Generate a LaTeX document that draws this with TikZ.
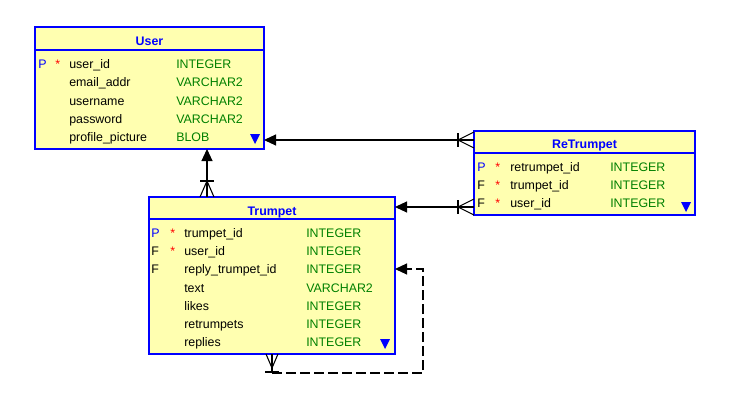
\documentclass[tikz,border=0pt]{standalone}
\usepackage{fontspec}
\setmainfont{Liberation Sans}
\usetikzlibrary{arrows.meta,fit}
\definecolor{boxfill}{RGB}{255,255,176}
\definecolor{typegreen}{RGB}{0,128,0}
\definecolor{keyblue}{RGB}{0,0,255}
\begin{document}
\begin{tikzpicture}[x=0.75pt,y=-0.75pt,
  font=\fontsize{9.3}{11}\selectfont,
  entity/.style={draw=keyblue,fill=boxfill,line width=0.9pt,inner sep=0pt},
  title/.style={text=keyblue,font=\fontsize{9.3}{11}\selectfont\bfseries,inner sep=0pt,anchor=base},
  txt/.style={anchor=base west,inner sep=0pt,yshift=-3.4pt},
  tri/.style={fill=keyblue,draw=none},
  rel/.style={line width=0.8pt,-{Triangle[length=9pt,width=8.25pt]}},
  foot/.style={line width=0.8pt},
  dashrel/.style={line width=0.8pt,dash pattern=on 7.5pt off 3pt,-{Triangle[length=9pt,width=8.25pt]}}]
\useasboundingbox (0,0) rectangle (739,410);
\fill[white] (0,0) rectangle (739,410);
% ---------- User
\coordinate (ua) at (35,27); \coordinate (ub) at (264,149);
\node[entity,fit=(ua)(ub)] (user) {};
\draw[keyblue,line width=0.9pt] (35,50) -- (264,50);
\node[title] (usertitle) at (149.5,46) {User};
\node[txt,text=keyblue] (u1k) at (38,64) {P};
\node[txt,text=red] (u1s) at (55,64) {*};
\node[txt] (u1n) at (69,64) {user\_id};
\node[txt,text=typegreen] (u1t) at (176,64) {INTEGER};
\node[txt] (u2n) at (69,82) {email\_addr};
\node[txt,text=typegreen] (u2t) at (176,82) {VARCHAR2};
\node[txt] (u3n) at (69,101) {username};
\node[txt,text=typegreen] (u3t) at (176,101) {VARCHAR2};
\node[txt] (u4n) at (69,119) {password};
\node[txt,text=typegreen] (u4t) at (176,119) {VARCHAR2};
\node[txt] (u5n) at (69,137) {profile\_picture};
\node[txt,text=typegreen] (u5t) at (176,137) {BLOB};
\fill[tri] (250,134) -- (260,134) -- (255,144) -- cycle;
% ---------- Trumpet
\coordinate (ta) at (149,197); \coordinate (tb) at (395,354);
\node[entity,fit=(ta)(tb)] (trumpet) {};
\draw[keyblue,line width=0.9pt] (149,219) -- (395,219);
\node[title] (trumpettitle) at (272,215) {Trumpet};
\node[txt,text=keyblue] (t1k) at (151,233) {P};
\node[txt,text=red] (t1s) at (170,233) {*};
\node[txt] (t1n) at (184,233) {trumpet\_id};
\node[txt,text=typegreen] (t1t) at (306,233) {INTEGER};
\node[txt] (t2k) at (151,251) {F};
\node[txt,text=red] (t2s) at (170,251) {*};
\node[txt] (t2n) at (184,251) {user\_id};
\node[txt,text=typegreen] (t2t) at (306,251) {INTEGER};
\node[txt] (t3k) at (151,269) {F};
\node[txt] (t3n) at (184,269) {reply\_trumpet\_id};
\node[txt,text=typegreen] (t3t) at (306,269) {INTEGER};
\node[txt] (t4n) at (184,288) {text};
\node[txt,text=typegreen] (t4t) at (306,288) {VARCHAR2};
\node[txt] (t5n) at (184,306) {likes};
\node[txt,text=typegreen] (t5t) at (306,306) {INTEGER};
\node[txt] (t6n) at (184,324) {retrumpets};
\node[txt,text=typegreen] (t6t) at (306,324) {INTEGER};
\node[txt] (t7n) at (184,342) {replies};
\node[txt,text=typegreen] (t7t) at (306,342) {INTEGER};
\fill[tri] (380,339) -- (390,339) -- (385,349) -- cycle;
% ---------- ReTrumpet
\coordinate (ra) at (474,131); \coordinate (rb) at (695,215);
\node[entity,fit=(ra)(rb)] (retrumpet) {};
\draw[keyblue,line width=0.9pt] (474,153) -- (695,153);
\node[title] (retrumpettitle) at (584.5,148) {ReTrumpet};
\node[txt,text=keyblue] (r1k) at (477,167) {P};
\node[txt,text=red] (r1s) at (495,167) {*};
\node[txt] (r1n) at (510,167) {retrumpet\_id};
\node[txt,text=typegreen] (r1t) at (610,167) {INTEGER};
\node[txt] (r2k) at (477,185) {F};
\node[txt,text=red] (r2s) at (495,185) {*};
\node[txt] (r2n) at (510,185) {trumpet\_id};
\node[txt,text=typegreen] (r2t) at (610,185) {INTEGER};
\node[txt] (r3k) at (477,203) {F};
\node[txt,text=red] (r3s) at (495,203) {*};
\node[txt] (r3n) at (510,203) {user\_id};
\node[txt,text=typegreen] (r3t) at (610,203) {INTEGER};
\fill[tri] (681,202) -- (691,202) -- (686,212) -- cycle;
% ---------- connectors
% ReTrumpet -> User
\coordinate (c1a) at (474,140); \coordinate (c1b) at (264,140);
\draw[rel] (c1a) -- (c1b);
\draw[foot] (474,132) -- (458,140) -- (474,148);
\draw[foot] (458,133) -- (458,147);
% ReTrumpet -> Trumpet
\coordinate (c2a) at (474,207); \coordinate (c2b) at (395,207);
\draw[rel] (c2a) -- (c2b);
\draw[foot] (474,199) -- (458,207) -- (474,215);
\draw[foot] (458,200) -- (458,214);
% Trumpet -> User
\coordinate (c3a) at (207,197); \coordinate (c3b) at (207,149);
\draw[rel] (c3a) -- (c3b);
\draw[foot] (200,197) -- (207,181) -- (214,197);
\draw[foot] (200,181) -- (214,181);
% Trumpet -> Trumpet (self, dashed)
\coordinate (c4a) at (272,354); \coordinate (c4m) at (272,373);
\coordinate (c4b) at (395,269);
\draw[foot] (c4a) -- (c4m);
\draw[dashrel] (c4m) -- (423,373) -- (423,269) -- (c4b);
\draw[foot] (266,354) -- (272,368) -- (278,354);
\draw[foot] (265,372) -- (279,372);
\end{tikzpicture}
\end{document}
